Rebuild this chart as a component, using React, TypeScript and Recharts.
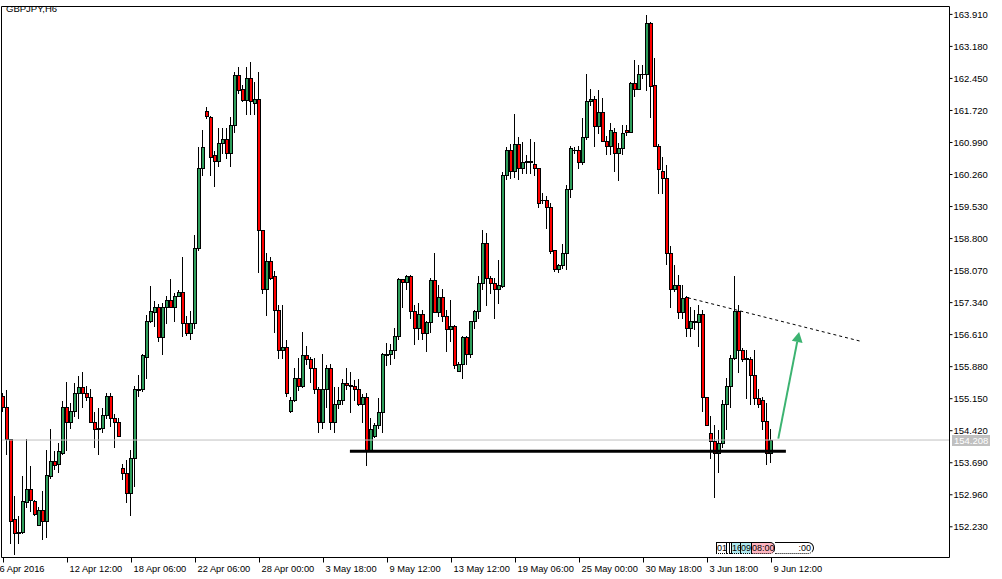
import { ComposedChart, Bar, XAxis, YAxis, ReferenceLine } from "recharts"

const FONT = "'Liberation Sans', Arial, sans-serif"
const GREEN = "#2e9e5b"
const RED = "#ff0000"
const ARROW = "#3cb371"

// GBPJPY H6, one entry per candle
const opens = [
  155.20, 154.95, 154.22, 152.40, 152.08, 152.10, 152.79, 153.10, 152.81, 152.28,
  152.62, 152.37, 153.38, 153.72, 153.65, 153.92, 154.95, 154.61, 154.86, 155.27,
  155.41, 155.29, 155.18, 154.63, 154.45, 154.49, 154.77, 155.20, 154.72, 154.61,
  153.58, 153.45, 153.01, 153.79, 155.34, 155.36, 156.11, 156.93, 157.12, 157.25,
  156.55, 157.23, 157.41, 157.25, 157.50, 157.59, 156.87, 156.64, 156.87, 158.58,
  160.42, 161.70, 161.56, 160.70, 160.56, 160.97, 161.06, 160.74, 161.40, 162.52,
  162.20, 161.97, 162.47, 161.90, 161.99, 158.99, 157.64, 158.28, 157.94, 157.18,
  156.27, 156.32, 154.86, 155.13, 155.63, 155.43, 156.14, 156.05, 155.86, 155.38,
  154.61, 155.38, 155.84, 154.61, 155.04, 155.13, 155.50, 155.47, 155.45, 155.36,
  155.04, 155.18, 153.99, 154.29, 154.54, 154.84, 156.14, 156.16, 156.27, 156.59,
  157.87, 157.82, 157.94, 157.14, 156.77, 157.07, 156.64, 156.89, 157.85, 157.12,
  157.46, 157.03, 156.75, 156.80, 155.79, 155.95, 156.55, 156.18, 156.91, 157.14,
  157.78, 158.71, 157.91, 157.78, 157.64, 157.73, 160.24, 160.83, 160.35, 160.95,
  160.40, 160.56, 160.54, 160.51, 160.40, 159.69, 159.69, 159.51, 158.53, 158.10,
  158.19, 158.46, 159.92, 160.81, 160.81, 160.54, 161.11, 161.93, 161.99, 161.36,
  161.68, 161.02, 160.90, 161.24, 160.76, 160.86, 161.27, 161.24, 162.34, 162.22,
  162.54, 162.54, 163.71, 162.29, 160.92, 160.35, 160.19, 158.46, 157.66, 157.75,
  157.12, 157.46, 156.77, 156.89, 156.89, 157.07, 155.18, 154.36, 154.18, 153.92,
  154.15, 155.04, 155.43, 156.07, 157.14, 156.27, 156.05, 156.05, 155.70, 155.16,
  155.13, 154.65, 153.92,
]
const highs = [
  155.27, 155.34, 154.24, 152.94, 152.47, 153.38, 154.22, 153.61, 152.85, 152.67,
  153.04, 153.99, 154.45, 153.95, 154.15, 155.09, 155.52, 155.06, 155.50, 155.66,
  155.75, 155.43, 155.36, 154.84, 154.93, 154.93, 155.29, 155.27, 154.81, 154.72,
  153.67, 153.76, 153.99, 155.45, 155.70, 156.18, 157.05, 157.71, 157.37, 157.30,
  157.32, 157.48, 157.87, 157.55, 157.62, 158.37, 157.03, 157.16, 158.87, 160.88,
  161.27, 161.79, 161.59, 160.79, 161.33, 161.33, 161.33, 161.56, 162.59, 162.70,
  162.31, 162.70, 162.82, 162.36, 162.59, 158.99, 158.48, 158.39, 158.05, 157.28,
  157.28, 156.48, 155.18, 155.84, 156.07, 156.66, 156.36, 156.11, 156.07, 155.41,
  156.16, 155.91, 155.95, 155.41, 155.41, 155.59, 155.86, 155.75, 155.57, 155.61,
  155.25, 155.27, 154.70, 154.59, 155.16, 156.20, 156.41, 156.39, 156.77, 157.91,
  157.87, 157.98, 157.96, 157.28, 157.32, 157.18, 156.93, 157.89, 158.48, 157.75,
  157.64, 157.18, 157.39, 156.84, 155.98, 156.59, 156.57, 156.93, 157.18, 157.94,
  158.99, 158.92, 157.94, 157.91, 158.32, 160.31, 160.88, 160.95, 161.65, 161.11,
  160.99, 160.70, 161.06, 160.99, 160.40, 159.83, 159.78, 159.60, 158.55, 158.23,
  158.67, 160.01, 160.92, 160.88, 160.92, 161.54, 162.54, 162.22, 162.06, 162.18,
  162.00, 161.13, 161.43, 161.33, 160.97, 161.38, 161.38, 162.36, 162.88, 162.75,
  162.75, 163.89, 163.73, 162.91, 160.95, 160.67, 160.47, 158.64, 158.19, 157.96,
  157.75, 157.50, 157.23, 157.18, 157.28, 157.18, 155.18, 154.75, 154.54, 154.43,
  155.13, 155.63, 156.14, 157.94, 157.28, 156.30, 156.25, 156.09, 156.25, 155.38,
  155.18, 155.06, 154.45,
]
const lows = [
  154.88, 153.90, 151.87, 151.62, 151.87, 152.08, 152.67, 152.58, 152.51, 152.26,
  151.96, 151.99, 153.35, 153.54, 153.47, 153.90, 153.99, 154.49, 154.75, 154.72,
  154.95, 155.13, 154.61, 154.04, 153.88, 154.40, 154.72, 154.52, 154.06, 154.29,
  153.31, 152.79, 152.49, 153.15, 155.20, 155.32, 155.63, 156.89, 156.80, 156.46,
  156.16, 156.87, 157.25, 156.93, 157.48, 156.59, 156.61, 156.52, 156.77, 158.55,
  160.24, 161.54, 160.24, 159.99, 160.45, 160.76, 160.63, 160.45, 161.22, 162.11,
  161.93, 161.63, 161.65, 161.65, 158.03, 157.55, 157.05, 157.87, 156.68, 156.07,
  156.07, 155.20, 154.84, 155.09, 155.34, 155.41, 155.95, 155.54, 155.27, 154.40,
  154.49, 154.95, 154.47, 154.38, 154.93, 155.04, 155.38, 154.84, 155.13, 155.00,
  154.61, 153.63, 153.99, 154.27, 154.49, 154.40, 155.91, 155.95, 156.07, 156.52,
  157.23, 157.64, 157.00, 156.39, 156.50, 156.52, 156.23, 156.66, 157.12, 157.03,
  156.91, 156.23, 156.46, 155.84, 155.77, 155.63, 155.95, 156.09, 156.77, 156.98,
  157.66, 157.28, 157.57, 157.00, 157.34, 157.69, 160.15, 160.19, 160.20, 160.15,
  160.29, 160.29, 160.29, 160.24, 159.51, 159.60, 159.03, 158.46, 158.07, 158.03,
  158.12, 158.10, 159.74, 160.76, 160.42, 160.51, 161.08, 161.84, 160.90, 161.20,
  161.02, 160.72, 160.72, 160.33, 160.13, 160.72, 161.17, 161.22, 162.06, 162.20,
  162.47, 162.18, 161.56, 160.90, 159.83, 159.83, 158.23, 157.23, 157.60, 156.98,
  157.00, 156.57, 156.57, 156.73, 156.34, 154.86, 154.54, 153.79, 152.92, 153.49,
  154.04, 154.47, 154.97, 156.05, 155.75, 156.02, 155.16, 155.04, 155.02, 154.95,
  154.45, 153.65, 153.70,
]
const closes = [
  154.95, 154.22, 152.37, 152.08, 152.10, 152.81, 153.10, 152.83, 152.53, 152.62,
  152.37, 153.40, 153.72, 153.63, 153.95, 154.95, 154.61, 154.88, 155.27, 155.41,
  155.29, 155.18, 154.63, 154.45, 154.49, 154.77, 155.20, 154.72, 154.61, 154.29,
  153.45, 153.01, 153.79, 155.36, 155.36, 156.14, 156.93, 157.14, 157.25, 156.55,
  157.23, 157.41, 157.25, 157.50, 157.59, 156.87, 156.64, 156.87, 158.58, 160.42,
  160.88, 161.59, 160.67, 160.56, 160.97, 161.06, 160.74, 161.40, 162.52, 162.18,
  161.97, 162.47, 161.93, 161.99, 158.99, 157.64, 158.28, 157.91, 157.18, 156.27,
  156.32, 155.29, 155.13, 155.63, 155.43, 156.14, 156.05, 155.86, 155.38, 154.63,
  155.38, 155.84, 154.61, 155.04, 155.13, 155.50, 155.47, 155.45, 155.36, 155.04,
  155.18, 153.99, 154.45, 154.54, 154.84, 156.18, 156.16, 156.27, 156.59, 157.87,
  157.82, 157.94, 157.14, 156.77, 157.07, 156.64, 156.89, 157.85, 157.12, 157.46,
  157.03, 156.75, 156.80, 155.91, 155.95, 156.55, 156.18, 156.91, 157.14, 157.78,
  158.71, 157.91, 157.78, 157.66, 157.75, 160.24, 160.83, 160.35, 160.95, 160.40,
  160.54, 160.54, 160.56, 160.40, 159.60, 159.67, 159.51, 158.51, 158.10, 158.19,
  158.46, 159.92, 160.86, 160.83, 160.54, 161.11, 161.93, 161.99, 161.36, 161.68,
  161.02, 160.90, 161.27, 160.76, 160.86, 161.20, 161.24, 162.34, 162.22, 162.54,
  162.55, 163.71, 162.27, 160.90, 160.38, 160.19, 158.46, 157.66, 157.75, 157.12,
  157.44, 156.77, 156.93, 156.93, 157.07, 155.18, 154.54, 154.18, 153.92, 154.15,
  155.04, 155.43, 156.07, 157.14, 156.27, 156.05, 156.07, 155.70, 155.16, 155.04,
  154.65, 153.92, 154.21,
]

// one label every 16 candles
const timeLabels = [
  "6 Apr 2016", "12 Apr 12:00", "18 Apr 06:00", "22 Apr 06:00", "28 Apr 00:00",
  "3 May 18:00", "9 May 12:00", "13 May 12:00", "19 May 06:00", "25 May 00:00",
  "30 May 18:00", "3 Jun 18:00", "9 Jun 12:00",
]
const priceTicks = [
  152.23, 152.96, 153.69, 154.42, 155.15, 155.88, 156.61, 157.34, 158.07,
  158.80, 159.53, 160.26, 160.99, 161.72, 162.45, 163.18, 163.91,
]
const lastPrice = 154.208
const supportLevel = 153.95
const supportSpan = [86.6, 195.6]
const trendLine = [{ x: 171.1, y: 157.45 }, { x: 214.7, y: 156.45 }]
const arrowLine = [{ x: 193.7, y: 154.24 }, { x: 198.9, y: 156.67 }]
const SLOTS = 237 // candles + empty shift area on the right

const rows = Array.from({ length: SLOTS }, (_, i) =>
  i < opens.length
    ? { i, range: [lows[i], highs[i]], o: opens[i], h: highs[i], l: lows[i], c: closes[i] }
    : { i })

// body: black outline 4px wide, 2px colour inside, wick on the left-centre column
function Candle(props: any) {
  const { x, y, width, height, payload } = props
  if (!payload || payload.o == null) return null
  const { o, h, l, c } = payload
  const k = h > l ? height / (h - l) : 0
  const yOf = (v: number) => y + (h - v) * k
  const col = Math.floor(x + width / 2 - 0.5)
  const yh = Math.round(y), yl = Math.round(y + height)
  const t = Math.round(yOf(Math.max(o, c))), b = Math.round(yOf(Math.min(o, c)))
  return (
    <g>
      <rect x={col} y={yh} width={1} height={yl - yh + 1} fill="#000" />
      <rect x={col - 1} y={t} width={4} height={Math.max(1, b - t + 1)} fill="#000" />
      {b - t >= 2 && <rect x={col} y={t + 1} width={2} height={b - t - 1} fill={c >= o ? GREEN : RED} />}
    </g>
  )
}

function TimeTick(props: any) {
  const { x, y, payload } = props
  const label = timeLabels[payload.value / 16]
  if (label === undefined) return null
  const tx = Math.floor(x) + 0.5
  return (
    <g>
      <line x1={tx} x2={tx} y1={y} y2={y + 5} stroke="#000" />
      <text x={payload.value === 0 ? tx - 4 : tx + 2} y={y + 14.5} fontSize={9.3} fontFamily={FONT} fill="#000">{label}</text>
    </g>
  )
}

function PriceTag(props: any) {
  const { viewBox } = props
  const x = Math.round(viewBox.x + viewBox.width) + 2
  const y = Math.round(viewBox.y)
  return (
    <g>
      <rect x={x} y={y - 5} width={38} height={11} fill="#c0c0c0" />
      <text x={x + 2} y={y + 4} fontSize={9.5} fontFamily={FONT} fill="#fff">{lastPrice.toFixed(3)}</text>
    </g>
  )
}

function Arrow(props: any) {
  const { x1, y1, x2, y2 } = props
  const dx = x2 - x1, dy = y2 - y1
  const len = Math.hypot(dx, dy) || 1
  const ux = dx / len, uy = dy / len
  const bx = x2 - ux * 10, by = y2 - uy * 10
  return (
    <g>
      <line x1={x1} y1={y1} x2={bx} y2={by} stroke={ARROW} strokeWidth={2} />
      <polygon points={`${x2},${y2} ${bx - uy * 5.5},${by + ux * 5.5} ${bx + uy * 5.5},${by - ux * 5.5}`} fill={ARROW} />
    </g>
  )
}

const flag = { height: 10, border: "1px solid #000", borderBottom: "1px dotted #000", overflow: "hidden", whiteSpace: "nowrap" as const, boxSizing: "content-box" as const }

export default function App() {
  return (
    <div style={{ position: "absolute", left: 0, top: 0, width: 1002, height: 579, background: "#fff", overflow: "hidden" }}>
      <ComposedChart width={1002} height={579} data={rows} margin={{ top: 6.5, right: 0, bottom: 0, left: 1.5 }}>
        <XAxis dataKey="i" type="category" interval={15} tickLine={false} tickSize={0} tickMargin={0} height={21.5}
          axisLine={{ stroke: "#000" }} tick={<TimeTick />} />
        <XAxis xAxisId="num" type="number" dataKey="i" domain={[-0.5, SLOTS - 0.5]} allowDataOverflow hide />
        <YAxis orientation="right" type="number" domain={[151.53, 164.09]} allowDataOverflow ticks={priceTicks} interval={0}
          width={52.5} tickSize={3} tickMargin={1} axisLine={{ stroke: "#000" }} tickLine={{ stroke: "#000" }}
          tick={{ fontSize: 9.5, fontFamily: FONT, fill: "#000" }} tickFormatter={(v: number) => v.toFixed(3)} />
        <ReferenceLine y={lastPrice} stroke="#c0c0c0" label={<PriceTag />} />
        <Bar dataKey="range" shape={<Candle />} isAnimationActive={false} />
        <ReferenceLine xAxisId="num" x={-0.5} stroke="#000" />
        <ReferenceLine y={164.09} stroke="#000" />
        <ReferenceLine xAxisId="num" segment={[{ x: supportSpan[0], y: supportLevel }, { x: supportSpan[1], y: supportLevel }]}
          stroke="#000" strokeWidth={3} />
        <ReferenceLine xAxisId="num" segment={trendLine} stroke="#000" strokeDasharray="3 3" />
        <ReferenceLine xAxisId="num" segment={arrowLine} shape={Arrow} />
      </ComposedChart>
      <div style={{ position: "absolute", left: 6, top: 3, fontFamily: FONT, fontSize: 9.5, color: "#000" }}>GBPJPY,H6</div>
      <div style={{ position: "absolute", left: 716, top: 542, display: "flex", fontFamily: FONT, fontSize: 9, lineHeight: "10px" }}>
        <span style={{ ...flag, width: 9, background: "#fff" }}>01:</span>
        <span style={{ ...flag, width: 2, background: "#fff", borderLeft: "none" }} />
        <span style={{ ...flag, width: 1, background: "#fff", borderLeft: "none" }} />
        <span style={{ ...flag, width: 8, background: "#aee8ee", borderLeft: "none" }}>16</span>
        <span style={{ ...flag, width: 10, background: "#aee8ee", borderLeft: "none" }}>09:</span>
        <span style={{ ...flag, width: 22, background: "#ffb6c1", borderLeft: "none", borderRadius: "0 5px 5px 0" }}>08:00</span>
        <span style={{ ...flag, width: 36, background: "#fff", borderLeft: "none", borderRadius: "0 6px 6px 0", textAlign: "right", paddingRight: 2 }}>:00</span>
      </div>
    </div>
  )
}
